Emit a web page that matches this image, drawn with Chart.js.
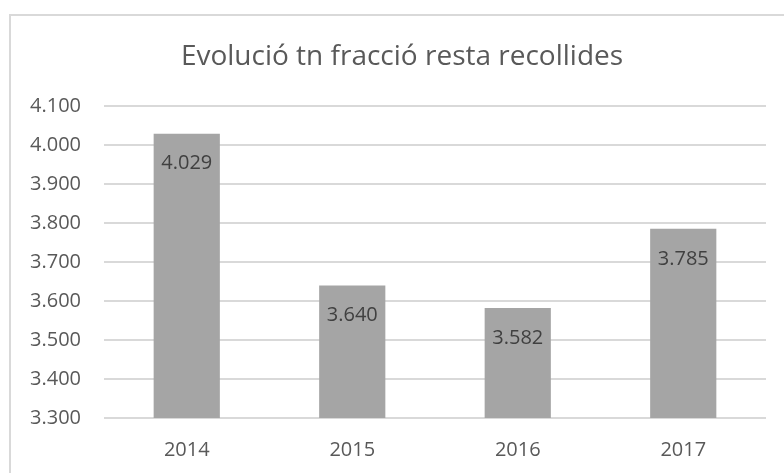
<!DOCTYPE html>
<html lang="ca">
<head>
    <meta charset="UTF-8">
    <title>Evolució tn fracció resta recollides</title>
    <style>
        body {
            margin: 0;
            background: #ffffff;
            overflow: hidden;
        }
        .frame {
            position: absolute;
            left: 9px;
            top: 14px;
            width: 800px;
            height: 500px;
            border-left: 2px solid #d9d9d9;
            border-top: 2px solid #d9d9d9;
        }
        .chart-box {
            position: absolute;
            left: 0;
            top: 0;
            width: 784px;
            height: 473px;
        }
    </style>
</head>
<body>
    <div class="frame"></div>
    <div class="chart-box">
        <canvas id="restaChart"></canvas>
    </div>

    <script src="https://cdn.jsdelivr.net/npm/chart.js"></script>
    <script>
        const chartTitle = 'Evolució tn fracció resta recollides';
        const years = ['2014', '2015', '2016', '2017'];
        const tonnes = [4029, 3640, 3582, 3785];
        const yMin = 3300;
        const yMax = 4100;
        const yStep = 100;

        // 4029 -> "4.029"
        function formatCa(n) {
            return String(Math.round(n)).replace(/\B(?=(\d{3})+(?!\d))/g, '.');
        }

        const textColor = '#595959';
        const fontFamily = '"Open Sans", "Noto Sans", sans-serif';

        // title centred on the whole frame, not only on the plot
        const frameTitle = {
            id: 'frameTitle',
            afterDraw(chart) {
                const ctx = chart.ctx;
                ctx.save();
                ctx.font = '28px ' + fontFamily;
                ctx.fillStyle = textColor;
                ctx.textAlign = 'center';
                ctx.textBaseline = 'middle';
                ctx.fillText(chartTitle, 402, 57);
                ctx.restore();
            }
        };

        // values written inside the top of each bar
        const barLabels = {
            id: 'barLabels',
            afterDatasetsDraw(chart) {
                const ctx = chart.ctx;
                const meta = chart.getDatasetMeta(0);
                ctx.save();
                ctx.font = '20px ' + fontFamily;
                ctx.fillStyle = '#404040';
                ctx.textAlign = 'center';
                ctx.textBaseline = 'middle';
                meta.data.forEach((bar, i) => {
                    ctx.fillText(formatCa(tonnes[i]), bar.x, bar.y + 30);
                });
                ctx.restore();
            }
        };

        const ctx = document.getElementById('restaChart').getContext('2d');
        new Chart(ctx, {
            type: 'bar',
            data: {
                labels: years,
                datasets: [{
                    label: 'tn',
                    data: tonnes,
                    backgroundColor: '#a5a5a5',
                    borderWidth: 0,
                    categoryPercentage: 1.0,
                    barPercentage: 0.4
                }]
            },
            options: {
                responsive: true,
                maintainAspectRatio: false,
                animation: false,
                layout: {
                    padding: { left: 0, right: 18, top: 106, bottom: 0 }
                },
                plugins: {
                    legend: { display: false },
                    tooltip: { enabled: false },
                    title: { display: false }
                },
                scales: {
                    x: {
                        grid: { display: false, drawTicks: false },
                        border: { display: false },
                        ticks: {
                            color: textColor,
                            font: { family: fontFamily, size: 20 },
                            padding: 20
                        },
                        afterFit(scale) { scale.height = 55; }
                    },
                    y: {
                        min: yMin,
                        max: yMax,
                        grid: { color: '#d9d9d9', lineWidth: 2, drawTicks: false },
                        border: { display: false },
                        ticks: {
                            stepSize: yStep,
                            color: textColor,
                            font: { family: fontFamily, size: 20 },
                            padding: 23,
                            callback: v => formatCa(v)
                        },
                        afterFit(scale) { scale.width = 104; }
                    }
                }
            },
            plugins: [barLabels, frameTitle]
        });
    </script>
</body>
</html>
